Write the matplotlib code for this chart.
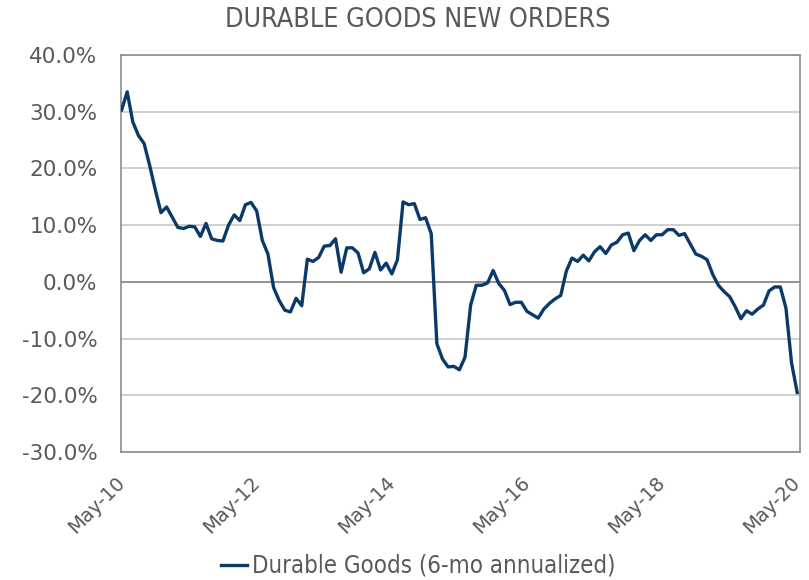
import matplotlib
matplotlib.use("Agg")
import matplotlib.pyplot as plt
from matplotlib.font_manager import FontProperties
import numpy as np

title = "DURABLE GOODS NEW ORDERS"
series_name = "Durable Goods (6-mo annualized)"
tick_labels = ["May-10", "May-12", "May-14", "May-16", "May-18", "May-20"]
tick_months = [0, 24, 48, 72, 96, 120]
y_ticks = [-30, -20, -10, 0, 10, 20, 30, 40]

values = [
    30.3, 33.5, 28.2, 25.8, 24.4, 20.5, 16.2, 12.2, 13.2, 11.4,
    9.6, 9.4, 9.8, 9.7, 8.0, 10.3, 7.6, 7.3, 7.2, 10.0,
    11.8, 10.8, 13.6, 14.0, 12.5, 7.3, 4.9, -1.0, -3.3, -5.0,
    -5.3, -2.9, -4.2, 4.0, 3.6, 4.3, 6.3, 6.4, 7.6, 1.7,
    6.0, 6.0, 5.1, 1.6, 2.3, 5.2, 2.1, 3.3, 1.4, 3.9,
    14.1, 13.6, 13.8, 11.0, 11.3, 8.5, -10.9, -13.6, -15.0, -14.9,
    -15.5, -13.3, -4.1, -0.6, -0.6, -0.2, 2.0, -0.3, -1.5, -4.0,
    -3.6, -3.6, -5.2, -5.8, -6.4, -4.8, -3.8, -3.0, -2.4, 1.9,
    4.2, 3.6, 4.7, 3.7, 5.3, 6.2, 5.0, 6.5, 7.0, 8.3,
    8.6, 5.5, 7.3, 8.3, 7.3, 8.3, 8.3, 9.2, 9.2, 8.2,
    8.5, 6.7, 4.9, 4.5, 3.9, 1.3, -0.6, -1.7, -2.6, -4.4,
    -6.5, -5.1, -5.7, -4.8, -4.1, -1.6, -0.9, -0.9, -4.6, -14.3,
    -19.5,
]

months = np.arange(len(values))
gray_text = "#595959"

fig = plt.figure(figsize=(8.09, 5.80), dpi=100)
ax = fig.add_axes([121 / 809, 1 - 452 / 580, (800 - 121) / 809, (452 - 55) / 580])

for yv in y_ticks:
    if yv == 0:
        ax.axhline(yv, color="#7f7f7f", lw=1.2, zorder=1)
    else:
        ax.axhline(yv, color="#c8c8c8", lw=1.2, zorder=1)

line, = ax.plot(months, values, color="#0b3a6a", lw=2.4, zorder=3,
                solid_joinstyle="round", label=series_name)

ax.set_xlim(-0.1, 120.5)
ax.set_ylim(-30, 40)
ax.set_yticks(y_ticks)
ax.set_yticklabels([f"{v:.1f}%" for v in y_ticks], color=gray_text, fontsize=15.5,
                   family="DejaVu Sans")
ax.set_xticks(tick_months)
ax.set_xticklabels(tick_labels, rotation=45, ha="right", va="center",
                   rotation_mode="anchor", color=gray_text, fontsize=14,
                   family="DejaVu Sans")
ax.tick_params(axis="y", length=0, pad=17)
ax.tick_params(axis="x", length=0, pad=20)

for s in ax.spines.values():
    s.set_color("#8c8c8c")
    s.set_linewidth(1.2)

cond_title = FontProperties(family="DejaVu Sans", stretch="condensed", size=19.3)
cond_leg = FontProperties(family="DejaVu Sans", stretch="condensed", size=17.2)

fig.text(418 / 809, 1 - 20 / 580, title, ha="center", va="center", color=gray_text,
         fontproperties=cond_title)

leg = fig.legend(handles=[line], loc="center", bbox_to_anchor=(418 / 809, 1 - 566 / 580),
                 frameon=False, handlelength=1.1, handletextpad=0.2,
                 prop=cond_leg)
for t in leg.get_texts():
    t.set_color(gray_text)

fig.savefig("out.png", dpi=100)
